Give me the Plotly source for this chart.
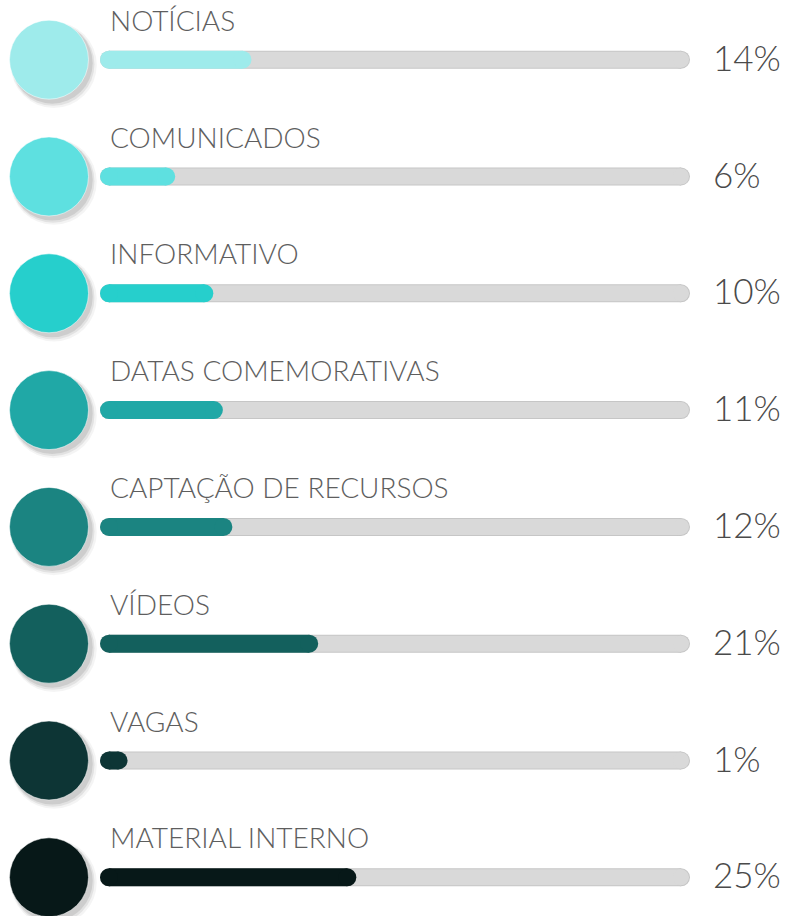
import plotly.graph_objects as go

# Content categories and their share of posts
categories = [
    "NOTÍCIAS", "COMUNICADOS", "INFORMATIVO", "DATAS COMEMORATIVAS",
    "CAPTAÇÃO DE RECURSOS", "VÍDEOS", "VAGAS", "MATERIAL INTERNO",
]
shares = [14, 6, 10, 11, 12, 21, 1, 25]
share_labels = ["14%", "6%", "10%", "11%", "12%", "21%", "1%", "25%"]
colors = ["#9EEBEB", "#5EE0E0", "#26CFCC", "#20A8A6",
          "#1B8481", "#13605D", "#0D3535", "#071818"]

TRACK_MAX = 60          # full length of the gray track, in %
W, H = 787, 916
ROW_PX = 116.8          # vertical distance between rows
FIRST_ROW_PX = 59.7     # centre of the first row from the top
BAR_PX = 18             # bar thickness
rows = list(range(len(categories)))

FONT = "Lato"

fig = go.Figure()

# gray track: a thick line with round end caps (darker rim below, lighter body above)
for width, col in [(BAR_PX, "#C6C6C6"), (BAR_PX - 2, "#D9D9D9")]:
    xs, ys = [], []
    for r in rows:
        xs += [0, TRACK_MAX, None]
        ys += [r, r, None]
    fig.add_trace(go.Scatter(
        x=xs, y=ys, mode="lines+markers", cliponaxis=False,
        line=dict(color=col, width=width),
        marker=dict(size=width, color=col, line=dict(width=0)),
        hoverinfo="skip", showlegend=False,
    ))

# coloured fill from each share value
for r, v, c in zip(rows, shares, colors):
    fig.add_trace(go.Scatter(
        x=[0, v], y=[r, r], mode="lines+markers", cliponaxis=False,
        line=dict(color=c, width=BAR_PX),
        marker=dict(size=BAR_PX, color=c, line=dict(width=0)),
        hoverinfo="skip", showlegend=False,
    ))

# soft drop shadow under the circles (layered translucent discs)
for size, alpha, dx, dy in [(86, 0.045, 0.56, 0.045), (83, 0.07, 0.55, 0.04), (81, 0.09, 0.54, 0.03)]:
    fig.add_trace(go.Scatter(
        x=[dx] * len(rows), y=[r + dy for r in rows], mode="markers",
        cliponaxis=False,
        marker=dict(size=size, color=f"rgba(0,0,0,{alpha})", line=dict(width=0)),
        xaxis="x2", yaxis="y", hoverinfo="skip", showlegend=False,
    ))
# coloured circles
fig.add_trace(go.Scatter(
    x=[0.5] * len(rows), y=rows, mode="markers", cliponaxis=False,
    marker=dict(size=79, color=colors, line=dict(color="rgba(255,255,255,0.5)", width=1)),
    xaxis="x2", yaxis="y", hoverinfo="skip", showlegend=False,
))

annotations = []
for r, name, lab in zip(rows, categories, share_labels):
    annotations.append(dict(
        x=0, y=r, xref="x", yref="y", text=name, showarrow=False,
        xanchor="left", yanchor="middle", xshift=-1, yshift=40,
        font=dict(family=FONT, size=28, color="#5E5E5E", weight=300),
    ))
    annotations.append(dict(
        x=711 / W, y=r, xref="paper", yref="y", text=lab, showarrow=False,
        xanchor="left", yanchor="middle", yshift=3,
        font=dict(family=FONT, size=35, color="#4A4A4A", weight=300),
    ))

fig.update_layout(
    width=W, height=H,
    margin=dict(l=0, r=0, t=0, b=0),
    paper_bgcolor="white", plot_bgcolor="white",
    xaxis=dict(domain=[109 / W, 681 / W], range=[0, TRACK_MAX],
               visible=False, fixedrange=True),
    xaxis2=dict(domain=[9 / W, 89 / W], range=[0, 1], anchor="y",
                visible=False, fixedrange=True),
    yaxis=dict(range=[(H - FIRST_ROW_PX) / ROW_PX, -FIRST_ROW_PX / ROW_PX],
               visible=False, fixedrange=True),
    annotations=annotations,
    font=dict(family=FONT),
)

fig.write_html("out.html", config={"displayModeBar": False})
